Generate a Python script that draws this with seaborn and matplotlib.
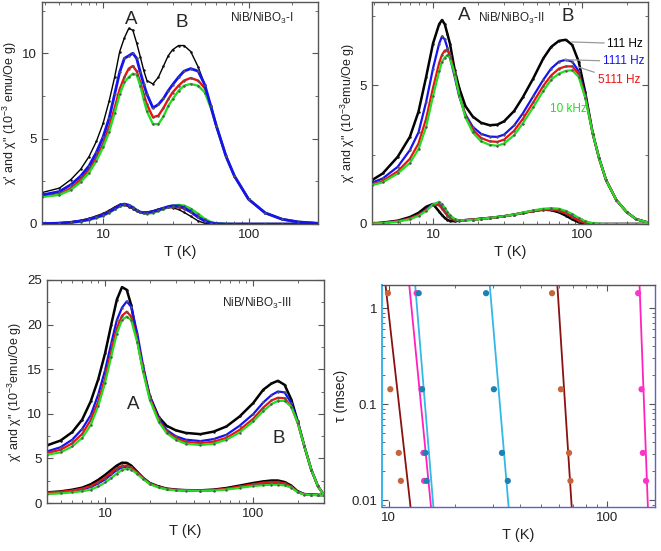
import matplotlib
matplotlib.use('Agg')
import matplotlib.pyplot as plt
import seaborn as sns
from matplotlib.ticker import FuncFormatter, MultipleLocator, FixedLocator, LogLocator, NullFormatter

# ---------------- data ----------------
freqs = ['111 Hz', '1111 Hz', '5111 Hz', '10 kHz']
colors = ['#000000', '#1414f0', '#ee1111', '#22dd22']

# panel 1: NiB/NiBO3-I
T1 = [3.8, 5, 6, 7, 8, 9, 10, 11, 12, 13, 14, 15, 16, 17, 18, 19, 20, 22, 24, 26, 28, 30,
      33, 36, 40, 45, 50, 55, 60, 70, 80, 100, 130, 170, 220, 300]
p1_re_111 = [1.84, 2.1, 2.6, 3.2, 3.95, 4.85, 5.9, 7.2, 8.6, 10.1, 10.9, 11.45, 11.35, 10.6, 9.8, 9.0, 8.4,
             8.2, 8.6, 9.25, 9.85, 10.2, 10.45, 10.45, 10.1, 9.2, 8.15, 6.9, 5.75, 3.96, 2.8, 1.45,
             0.65, 0.28, 0.12, 0.04]
p1_re_1111 = [1.7, 1.9, 2.3, 2.8, 3.4, 4.2, 5.1, 6.2, 7.6, 8.9, 9.7, 9.85, 10.0, 9.7, 8.9, 8.2, 7.6,
              6.8, 7.0, 7.35, 7.8, 8.15, 8.6, 8.95, 9.1, 8.95, 8.15, 6.9, 5.75, 3.96, 2.8, 1.45,
              0.65, 0.28, 0.12, 0.04]
p1_re_5111 = [1.6, 1.75, 2.1, 2.6, 3.2, 3.9, 4.7, 5.7, 6.8, 7.9, 8.6, 9.1, 9.25, 8.95, 8.3, 7.6, 7.0,
              6.25, 6.35, 6.8, 7.3, 7.7, 8.1, 8.4, 8.55, 8.4, 7.95, 6.9, 5.75, 3.96, 2.8, 1.45,
              0.65, 0.28, 0.12, 0.04]
p1_re_10k = [1.6, 1.7, 2.0, 2.45, 3.0, 3.7, 4.5, 5.4, 6.5, 7.6, 8.3, 8.6, 8.8, 8.75, 8.1, 7.3, 6.6,
             5.85, 5.85, 6.3, 6.9, 7.3, 7.8, 8.1, 8.2, 8.1, 7.7, 6.8, 5.75, 3.96, 2.8, 1.45,
             0.65, 0.28, 0.12, 0.04]
p1_im_111 = [0.03, 0.07, 0.13, 0.22, 0.33, 0.48, 0.62, 0.8, 1.0, 1.15, 1.12, 1.0, 0.88, 0.77, 0.7, 0.68,
             0.7, 0.78, 0.88, 0.96, 0.98, 0.95, 0.85, 0.68, 0.45, 0.18, 0.04, 0.01, 0, 0, 0, 0, 0, 0, 0, 0]
p1_im_1111 = [0.02, 0.05, 0.1, 0.17, 0.27, 0.4, 0.53, 0.7, 0.9, 1.08, 1.17, 1.1, 0.95, 0.8, 0.7, 0.66,
              0.66, 0.72, 0.82, 0.93, 1.02, 1.07, 1.05, 0.95, 0.72, 0.4, 0.18, 0.06, 0.02, 0, 0, 0, 0, 0, 0, 0]
p1_im_5111 = [0.02, 0.05, 0.1, 0.17, 0.27, 0.4, 0.55, 0.72, 0.92, 1.1, 1.15, 1.08, 0.93, 0.78, 0.68, 0.64,
              0.65, 0.7, 0.8, 0.9, 0.97, 1.0, 1.0, 0.9, 0.7, 0.4, 0.17, 0.06, 0.02, 0, 0, 0, 0, 0, 0, 0]
p1_im_10k = [0.01, 0.04, 0.08, 0.14, 0.23, 0.35, 0.48, 0.65, 0.85, 1.03, 1.13, 1.12, 1.0, 0.83, 0.7, 0.62,
             0.6, 0.65, 0.76, 0.88, 0.98, 1.07, 1.12, 1.08, 0.9, 0.6, 0.3, 0.12, 0.04, 0.01, 0, 0, 0, 0, 0, 0]

# panel 2: NiB/NiBO3-II
T2 = [3.9, 4.6, 5.8, 7, 8, 9, 10, 11, 11.5, 12, 12.5, 13, 14, 15, 16.5, 18.5, 21, 24, 27, 30, 35, 40,
      47, 55, 62, 70, 78, 86, 95, 105, 118, 130, 145, 170, 200, 230, 277]
p2_re_111 = [1.58, 1.82, 2.42, 3.14, 4.05, 5.3, 6.5, 7.2, 7.35, 7.2, 6.85, 6.5, 5.54, 4.9, 4.25, 3.87,
             3.65, 3.56, 3.58, 3.7, 4.07, 4.56, 5.24, 5.97, 6.38, 6.6, 6.64, 6.45, 5.85, 4.75, 3.26,
             2.38, 1.58, 0.86, 0.42, 0.18, 0.05]
p2_re_1111 = [1.49, 1.64, 2.06, 2.66, 3.3, 4.4, 5.6, 6.5, 6.76, 6.65, 6.35, 6.0, 5.3, 4.6, 3.95, 3.5,
              3.25, 3.15, 3.14, 3.22, 3.55, 3.98, 4.6, 5.2, 5.6, 5.85, 5.92, 5.85, 5.5, 4.65, 3.26,
              2.38, 1.58, 0.86, 0.42, 0.18, 0.05]
p2_re_5111 = [1.42, 1.55, 1.9, 2.35, 2.9, 3.8, 4.9, 5.8, 6.1, 6.25, 6.28, 6.1, 5.4, 4.65, 3.9, 3.4,
              3.1, 2.98, 2.96, 3.04, 3.36, 3.78, 4.38, 4.98, 5.35, 5.6, 5.68, 5.68, 5.4, 4.6, 3.26,
              2.38, 1.58, 0.86, 0.42, 0.18, 0.05]
p2_re_10k = [1.4, 1.5, 1.82, 2.2, 2.7, 3.5, 4.6, 5.5, 5.85, 6.0, 6.08, 5.98, 5.4, 4.65, 3.85, 3.3,
             2.98, 2.85, 2.82, 2.9, 3.2, 3.62, 4.2, 4.8, 5.2, 5.42, 5.52, 5.54, 5.3, 4.55, 3.26,
             2.38, 1.58, 0.86, 0.42, 0.18, 0.05]
p2_im_111 = [0.02, 0.05, 0.12, 0.25, 0.4, 0.62, 0.72, 0.45, 0.32, 0.22, 0.15, 0.11, 0.1, 0.12, 0.14,
             0.16, 0.19, 0.22, 0.25, 0.28, 0.34, 0.4, 0.47, 0.52, 0.5, 0.42, 0.3, 0.17, 0.06, 0.01,
             0, 0, 0, 0, 0, 0, 0]
p2_im_1111 = [0.02, 0.04, 0.1, 0.2, 0.33, 0.52, 0.72, 0.74, 0.62, 0.48, 0.35, 0.25, 0.15, 0.13, 0.14,
              0.16, 0.19, 0.22, 0.25, 0.28, 0.34, 0.4, 0.47, 0.53, 0.54, 0.5, 0.4, 0.27, 0.14, 0.05,
              0.01, 0, 0, 0, 0, 0, 0]
p2_im_5111 = [0.02, 0.04, 0.1, 0.2, 0.33, 0.5, 0.7, 0.68, 0.55, 0.42, 0.3, 0.21, 0.14, 0.13, 0.14,
              0.16, 0.19, 0.22, 0.25, 0.28, 0.34, 0.4, 0.46, 0.51, 0.52, 0.48, 0.38, 0.25, 0.12, 0.04,
              0.01, 0, 0, 0, 0, 0, 0]
p2_im_10k = [0.01, 0.03, 0.08, 0.17, 0.29, 0.47, 0.7, 0.8, 0.72, 0.58, 0.44, 0.32, 0.18, 0.13, 0.13,
             0.15, 0.18, 0.22, 0.25, 0.28, 0.34, 0.41, 0.49, 0.55, 0.57, 0.55, 0.47, 0.36, 0.22, 0.1,
             0.03, 0.01, 0, 0, 0, 0, 0]

# panel 3: NiB/NiBO3-III
T3 = [4.05, 5, 6, 7, 8, 9, 10, 11, 12, 13, 14, 15, 16.5, 18, 20, 23, 26, 30, 35, 44, 54, 66, 81,
      100, 117, 133, 147, 163, 181, 200, 222, 247, 274, 300]
p3_re_111 = [6.46, 7.0, 7.95, 9.35, 11.4, 13.9, 16.8, 20.0, 22.8, 24.2, 23.9, 22.2, 18.3, 15.1, 12.0,
             9.65, 8.66, 8.15, 7.86, 7.72, 8.0, 8.58, 9.7, 11.2, 12.7, 13.4, 13.7, 13.25, 11.6, 9.14,
             6.34, 3.73, 1.87, 0.93]
p3_re_1111 = [5.78, 6.25, 7.1, 8.3, 9.85, 12.2, 14.9, 17.9, 20.5, 21.9, 22.6, 22.0, 19.0, 15.5, 12.0,
              9.5, 8.2, 7.48, 7.1, 6.94, 7.16, 7.65, 8.66, 9.96, 11.27, 12.1, 12.5, 12.4, 11.2, 9.14,
              6.34, 3.73, 1.87, 0.93]
p3_re_5111 = [5.6, 5.97, 6.7, 7.75, 9.3, 11.4, 14.0, 17.0, 19.6, 21.0, 21.45, 20.9, 18.2, 15.0, 11.8,
              9.3, 8.0, 7.3, 6.85, 6.72, 6.87, 7.31, 8.2, 9.44, 10.7, 11.5, 11.8, 11.75, 10.8, 8.96,
              6.34, 3.73, 1.87, 0.93]
p3_re_10k = [5.41, 5.67, 6.34, 7.3, 8.75, 10.9, 13.5, 16.4, 19.0, 20.5, 20.9, 20.5, 18.0, 14.8, 11.6,
             9.1, 7.84, 7.1, 6.64, 6.5, 6.64, 7.1, 7.9, 9.14, 10.3, 11.1, 11.45, 11.45, 10.8, 9.0,
             6.34, 3.73, 1.87, 0.93]
p3_im_111 = [1.19, 1.3, 1.49, 1.72, 2.1, 2.6, 3.15, 3.7, 4.2, 4.52, 4.5, 4.2, 3.5, 2.85, 2.25, 1.85,
             1.62, 1.5, 1.44, 1.42, 1.5, 1.68, 1.95, 2.24, 2.42, 2.52, 2.52, 2.35, 1.95, 1.3, 1.0,
             0.95, 0.92, 0.9]
p3_im_1111 = [1.12, 1.2, 1.35, 1.52, 1.8, 2.2, 2.65, 3.2, 3.7, 4.0, 4.05, 3.9, 3.35, 2.78, 2.18, 1.78,
              1.56, 1.46, 1.42, 1.4, 1.44, 1.56, 1.78, 2.0, 2.15, 2.22, 2.24, 2.12, 1.8, 1.22, 0.97,
              0.92, 0.89, 0.87]
p3_im_5111 = [1.15, 1.25, 1.4, 1.6, 1.9, 2.35, 2.85, 3.4, 3.9, 4.15, 4.2, 4.0, 3.4, 2.8, 2.2, 1.8,
              1.58, 1.47, 1.42, 1.4, 1.45, 1.6, 1.85, 2.1, 2.28, 2.35, 2.36, 2.2, 1.85, 1.25, 0.98,
              0.93, 0.9, 0.88]
p3_im_10k = [1.0, 1.08, 1.19, 1.32, 1.5, 1.85, 2.3, 2.8, 3.3, 3.7, 3.84, 3.75, 3.25, 2.7, 2.12, 1.74,
             1.52, 1.42, 1.38, 1.36, 1.4, 1.5, 1.7, 1.9, 2.0, 2.05, 2.05, 1.97, 1.72, 1.2, 0.95,
             0.9, 0.87, 0.85]

# panel 4: relaxation time vs peak temperature
tau = [1.43, 0.143, 0.0311, 0.0159]
fit_tau = [1.74, 0.0085]
brown_pts_1 = [9.9, 10.15, 11.1, 11.35]
pink_pts_1 = [13.4, 14.1, 14.4, 14.5]
blue_pts_1 = [13.7, 14.2, 14.7, 14.9]
blue_pts_2 = [27.9, 30.3, 33.0, 35.1]
brown_pts_2 = [56.0, 61.5, 67.0, 68.0]
pink_pts_2 = [139, 144, 146, 151]
brown_fit_1 = [9.65, 12.57]
pink_fit_1 = [12.4, 15.6]
blue_fit_1 = [13.2, 16.0]
blue_fit_2 = [29.0, 35.4]
brown_fit_2 = [59.2, 68.9]
pink_fit_2 = [141, 154]

# ---------------- styling ----------------
sns.set_style('ticks')
plt.rcParams['font.family'] = ['Liberation Sans', 'DejaVu Sans']
plt.rcParams['axes.edgecolor'] = '#555555'
plt.rcParams['axes.linewidth'] = 1.0

fig = plt.figure(figsize=(6.61, 5.51), dpi=100)
W, H = 661.0, 551.0


def box(l, r, t, b):
    return [l / W, 1 - b / H, (r - l) / W, (b - t) / H]


logfmt = FuncFormatter(lambda v, p: f'{v:g}')


def style_axis(ax, xlim, ylim):
    ax.set_xscale('log')
    ax.set_xlim(*xlim)
    ax.set_ylim(*ylim)
    ax.xaxis.set_major_locator(FixedLocator([10, 100]))
    ax.xaxis.set_major_formatter(logfmt)
    ax.xaxis.set_minor_locator(LogLocator(base=10, subs=range(2, 10)))
    ax.xaxis.set_minor_formatter(NullFormatter())
    ax.tick_params(which='both', direction='in', top=True, right=True, colors='#555555',
                   labelcolor='#222222', labelsize=9.5)
    ax.tick_params(which='major', length=4)
    ax.tick_params(which='minor', length=2.5)
    ax.set_xlabel('T (K)', fontsize=10.5, color='#222222', labelpad=3)


def chi_panel(ax, T, re_curves, im_curves, top_key=None, lws=None):
    order = list(range(4))
    if top_key is not None:
        order.remove(top_key)
        order.append(top_key)
    for z, i in enumerate(order):
        lw = lws[i] if lws else 1.6
        mfc = '#111111' if i == 0 else '#555555'
        for vals in (re_curves[i], im_curves[i]):
            sns.lineplot(x=T, y=vals, ax=ax, color=colors[i], lw=lw, marker='o', markersize=1.8,
                         markerfacecolor=mfc, markeredgewidth=0, estimator=None,
                         sort=False, legend=False, zorder=2 + z)


# panel 1
ax1 = fig.add_axes(box(42, 318, 2, 224))
chi_panel(ax1, T1, [p1_re_111, p1_re_1111, p1_re_5111, p1_re_10k],
          [p1_im_111, p1_im_1111, p1_im_5111, p1_im_10k], top_key=1, lws=[1.0, 2.0, 1.7, 1.7])
style_axis(ax1, (3.8, 300), (0, 13))
ax1.yaxis.set_major_locator(MultipleLocator(5))
ax1.yaxis.set_minor_locator(MultipleLocator(2.5))
ax1.set_ylabel('χ\' and χ" (10$^{\\mathregular{-3}}$ emu/Oe g)', fontsize=9, color='#222222', labelpad=2)
ax1.text(15.7, 12.0, 'A', fontsize=13.5, ha='center', va='center')
ax1.text(34.6, 11.8, 'B', fontsize=13.5, ha='center', va='center')
ax1.text(74, 12.05, 'NiB/NiBO$_\\mathregular{3}$-I', fontsize=8.5, ha='left', va='center')

# panel 2
ax2 = fig.add_axes(box(372, 648, 2, 224))
chi_panel(ax2, T2, [p2_re_111, p2_re_1111, p2_re_5111, p2_re_10k],
          [p2_im_111, p2_im_1111, p2_im_5111, p2_im_10k], lws=[1.8, 1.6, 1.6, 1.6])
style_axis(ax2, (3.9, 277), (0, 8))
ax2.yaxis.set_major_locator(MultipleLocator(5))
ax2.yaxis.set_minor_locator(MultipleLocator(2.5))
ax2.set_ylabel('χ\' and χ" (10$^{\\mathregular{-3}}$emu/Oe g)', fontsize=9, color='#222222', labelpad=2)
ax2.text(16.3, 7.52, 'A', fontsize=13.5, ha='center', va='center')
ax2.text(80.6, 7.46, 'B', fontsize=13.5, ha='center', va='center')
ax2.text(19.9, 7.4, 'NiB/NiBO$_\\mathregular{3}$-II', fontsize=8.5, ha='left', va='center')
freq_label_pos = [((84.8, 6.56), (148, 6.5)), ((76.5, 5.92), (138, 5.86)),
                  ((94, 5.66), (127, 5.18))]
for i, (xy, xyt) in enumerate(freq_label_pos):
    ax2.annotate(freqs[i], xy=xy, xytext=xyt, fontsize=8.5, color=colors[i], va='center',
                 arrowprops=dict(arrowstyle='-', color='#999999', lw=0.9, shrinkA=0, shrinkB=0))
ax2.text(60.6, 4.16, freqs[3], fontsize=8.5, color=colors[3], ha='left', va='center')

# panel 3
ax3 = fig.add_axes(box(47, 324, 280, 503))
chi_panel(ax3, T3, [p3_re_111, p3_re_1111, p3_re_5111, p3_re_10k],
          [p3_im_111, p3_im_1111, p3_im_5111, p3_im_10k], lws=[1.8, 1.6, 1.6, 1.6])
style_axis(ax3, (4.05, 301), (0, 25))
ax3.yaxis.set_major_locator(MultipleLocator(5))
ax3.yaxis.set_minor_locator(MultipleLocator(2.5))
ax3.set_ylabel('χ\' and χ" (10$^{\\mathregular{-3}}$emu/Oe g)', fontsize=9, color='#222222', labelpad=2)
ax3.text(15.5, 11.0, 'A', fontsize=13.5, ha='center', va='center')
ax3.text(148.6, 7.25, 'B', fontsize=13.5, ha='center', va='center')
ax3.text(61.4, 22.4, 'NiB/NiBO$_\\mathregular{3}$-III', fontsize=8.5, ha='left', va='center')

# panel 4
ax4 = fig.add_axes(box(382, 655, 285, 507))
fits = [(brown_fit_1, '#8b1010'), (pink_fit_1, '#ff22bb'), (blue_fit_1, '#33b8e8'),
        (blue_fit_2, '#33b8e8'), (brown_fit_2, '#8b1010'), (pink_fit_2, '#ff22bb')]
for fT, c in fits:
    sns.lineplot(x=fT, y=fit_tau, ax=ax4, color=c, lw=1.3, sort=False, estimator=None, legend=False)
pts = [(brown_pts_1, '#c8643c'), (pink_pts_1, '#ff33cc'), (blue_pts_1, '#1f80b4'),
       (blue_pts_2, '#1f80b4'), (brown_pts_2, '#c8643c'), (pink_pts_2, '#ff33cc')]
for pT, c in pts:
    sns.scatterplot(x=pT, y=tau, ax=ax4, color=c, s=20, edgecolor='none', zorder=5, legend=False)
ax4.set_xscale('log')
ax4.set_yscale('log')
ax4.set_xlim(9.3, 166)
ax4.set_ylim(0.0085, 1.74)
ax4.xaxis.set_major_locator(FixedLocator([10, 100]))
ax4.xaxis.set_major_formatter(logfmt)
ax4.xaxis.set_minor_locator(LogLocator(base=10, subs=range(2, 10)))
ax4.xaxis.set_minor_formatter(NullFormatter())
ax4.yaxis.set_major_locator(FixedLocator([0.01, 0.1, 1]))
ax4.yaxis.set_major_formatter(logfmt)
ax4.yaxis.set_minor_locator(LogLocator(base=10, subs=range(2, 10)))
ax4.yaxis.set_minor_formatter(NullFormatter())
ax4.tick_params(which='both', direction='in', top=True, right=True, colors='#555555',
                labelcolor='#222222', labelsize=9.5)
ax4.tick_params(which='major', length=4)
ax4.tick_params(which='minor', length=2.5)
ax4.spines['left'].set_color('#33b8e8')
ax4.spines['left'].set_linewidth(1.4)
ax4.spines['right'].set_color('#6060c8')
ax4.spines['bottom'].set_color('#6060c8')
ax4.set_xlabel('T (K)', fontsize=10.5, color='#222222', labelpad=3)
ax4.set_ylabel('τ (msec)', fontsize=10, color='#222222', labelpad=2)

fig.savefig('out.png', dpi=100)
